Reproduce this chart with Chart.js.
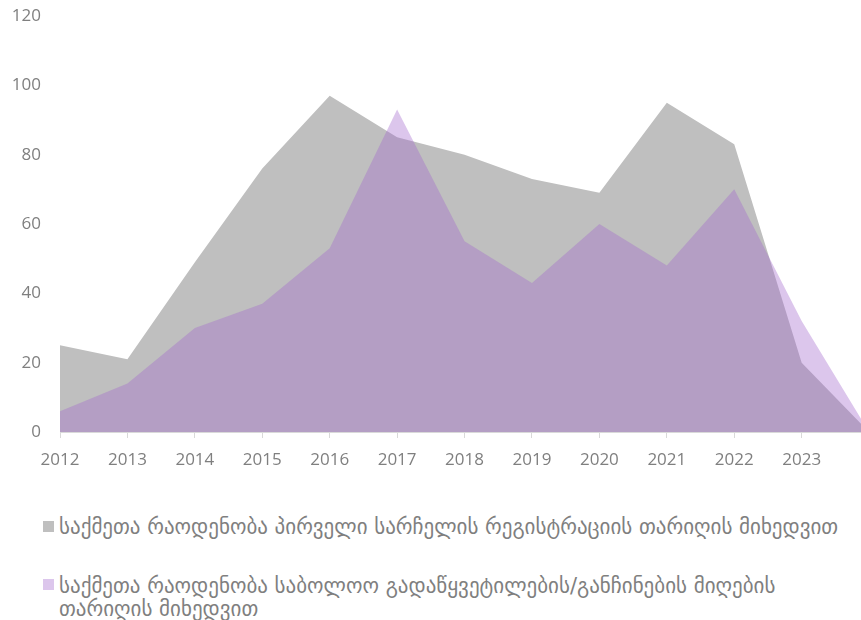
<!DOCTYPE html>
<html>
<head>
<meta charset="utf-8">
<script src="https://cdn.jsdelivr.net/npm/chart.js@4.4.1/dist/chart.umd.min.js"></script>
<style>
  html, body { margin: 0; padding: 0; background: #fff; overflow: hidden; }
  #wrap { position: relative; width: 861px; height: 620px; }
  #area-chart { position: absolute; left: 0; top: 0; }
  .legend-item {
    position: absolute; left: 43px; width: 800px;
    font-family: "DejaVu Sans", sans-serif; font-size: 21px;
    color: #7f7f7f; line-height: 23px;
  }
  .legend-item .swatch { position: absolute; left: 0; width: 11px; height: 11px; }
  .legend-item .txt { display: block; margin-left: 16px; }
</style>
</head>
<body>
<div id="wrap">
  <canvas id="area-chart" width="861" height="480"></canvas>
  <div id="legend"></div>
</div>
<script>
// DATA
var years = [2012, 2013, 2014, 2015, 2016, 2017, 2018, 2019, 2020, 2021, 2022, 2023, 2024];
var firstClaimCases = [25, 21, 49, 76, 97, 85, 80, 73, 69, 95, 83, 20, 0];
var finalDecisionCases = [6, 14, 30, 37, 53, 93, 55, 43, 60, 48, 70, 32, 0];
var yTicks = [0, 20, 40, 60, 80, 100, 120];

var seriesNames = [
  'საქმეთა რაოდენობა პირველი სარჩელის რეგისტრაციის თარიღის მიხედვით',
  'საქმეთა რაოდენობა საბოლოო გადაწყვეტილების/განჩინების მიღების თარიღის მიხედვით'
];

var grayFill = '#bfbfbf';
var purpleFill = 'rgba(162,103,204,0.375)';
var tickColor = '#7f7f7f';
var tickFont = { family: 'Open Sans', size: 17 };

function toPoints(values) {
  return values.map(function (v, i) { return { x: years[i], y: v }; });
}

//***************//
// AREA CHART
//***************//
var areaChartOptions = {
  type: 'line',
  data: {
    datasets: [
      {
        label: seriesNames[0],
        data: toPoints(firstClaimCases),
        backgroundColor: grayFill,
        borderWidth: 0,
        pointRadius: 0,
        fill: 'origin',
        tension: 0,
        order: 1
      },
      {
        label: seriesNames[1],
        data: toPoints(finalDecisionCases),
        backgroundColor: purpleFill,
        borderWidth: 0,
        pointRadius: 0,
        fill: 'origin',
        tension: 0,
        order: 0
      }
    ]
  },
  options: {
    responsive: false,
    animation: false,
    devicePixelRatio: 1,
    layout: { padding: { top: 16, right: 0, left: 0, bottom: 0 } },
    plugins: {
      legend: { display: false },
      tooltip: { enabled: false }
    },
    scales: {
      x: {
        type: 'linear',
        min: years[0],
        max: 2023.88,
        ticks: {
          stepSize: 1,
          maxTicksLimit: 20,
          autoSkip: false,
          includeBounds: false,
          maxRotation: 0,
          padding: 12,
          color: tickColor,
          font: tickFont,
          callback: function (v) { return Number.isInteger(v) ? String(v) : null; }
        },
        grid: {
          display: true,
          drawOnChartArea: false,
          drawTicks: true,
          tickLength: 6,
          color: '#d9d9d9'
        },
        border: { display: true, color: '#d9d9d9', width: 1 },
        afterFit: function (s) { s.height = 48; }
      },
      y: {
        min: yTicks[0],
        max: yTicks[yTicks.length - 1],
        ticks: {
          stepSize: yTicks[1] - yTicks[0],
          padding: 3,
          color: tickColor,
          font: tickFont
        },
        // hidden grid, its tick length only pushes the labels left
        grid: { display: false, drawTicks: true, tickLength: 16 },
        border: { display: false },
        afterFit: function (s) { s.width = 60; }
      }
    }
  }
};

var areaChart = new Chart(document.getElementById('area-chart'), areaChartOptions);

// LEGEND (html, so the long label can wrap)
var legendTops = [516, 575];
var swatchTops = [5, 4];
var legendSwatches = [grayFill, '#dcc6ec'];
var legendBox = document.getElementById('legend');
seriesNames.forEach(function (name, i) {
  var item = document.createElement('div');
  item.className = 'legend-item';
  item.style.top = legendTops[i] + 'px';
  var sw = document.createElement('span');
  sw.className = 'swatch';
  sw.style.background = legendSwatches[i];
  sw.style.top = swatchTops[i] + 'px';
  var txt = document.createElement('span');
  txt.className = 'txt';
  txt.textContent = name;
  item.appendChild(sw);
  item.appendChild(txt);
  legendBox.appendChild(item);
});
</script>
</body>
</html>
